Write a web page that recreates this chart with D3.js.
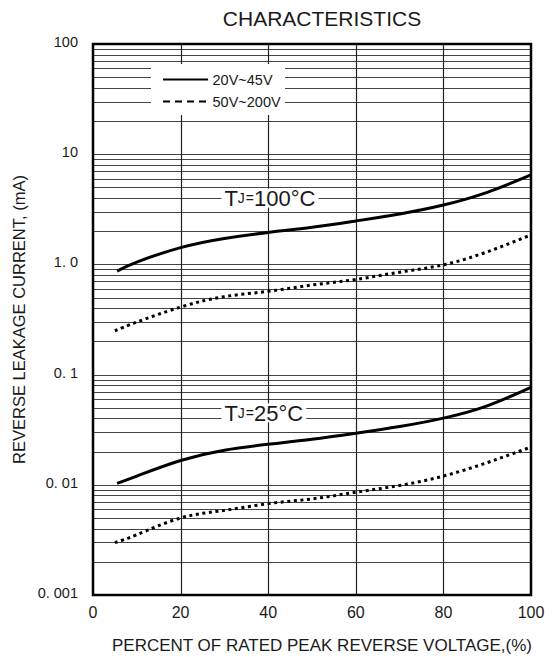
<!DOCTYPE html>
<html>
<head>
<meta charset="utf-8">
<script src="https://cdn.jsdelivr.net/npm/d3@7/dist/d3.min.js"></script>
<style>
  html, body { margin: 0; padding: 0; background: #fff; }
  svg { display: block; }
  text { font-family: "Liberation Sans", Arial, "DejaVu Sans", sans-serif; fill: #1a1a1a; }
</style>
</head>
<body>
<script>
// ---------- data ----------
const xTicks = [0, 20, 40, 60, 80, 100];
const xTickLabels = ["0", "20", "40", "60", "80", "100"];
const yTicks = [100, 10, 1, 0.1, 0.01, 0.001];
const yTickLabels = ["100", "10", "1. 0", "0. 1", "0. 01", "0. 001"];

const pctSolid  = [5.5, 10, 20, 30, 40, 50, 60, 70, 80, 90, 100];
const pctDotted = [5, 10, 20, 30, 40, 50, 60, 70, 80, 90, 100];

// TJ = 100°C
const lowV_100C  = [0.87, 1.05, 1.42, 1.72, 1.95, 2.17, 2.48, 2.87, 3.46, 4.51, 6.48];   // 20V~45V
const highV_100C = [0.25, 0.30, 0.41, 0.51, 0.57, 0.65, 0.73, 0.85, 0.99, 1.30, 1.85];   // 50V~200V
// TJ = 25°C
const lowV_25C   = [0.0103, 0.0120, 0.0166, 0.0206, 0.0233, 0.0259, 0.0294, 0.0338, 0.0403, 0.0521, 0.0767];
const highV_25C  = [0.00299, 0.00352, 0.0050, 0.00586, 0.00675, 0.00745, 0.00856, 0.00985, 0.0120, 0.0159, 0.0220];

const legendLabels = ["20V~45V", "50V~200V"];
const tempLabels = [
  { main: "T", sub: "J", eq: "=", rest: "100°C", x: 30, y: 4 },
  { main: "T", sub: "J", eq: "=", rest: "25°C",  x: 30, y: 0.045 }
];

const title = "CHARACTERISTICS";
const xTitle = "PERCENT OF RATED PEAK REVERSE VOLTAGE,(%)";
const yTitle = "REVERSE LEAKAGE CURRENT, (mA)";

// ---------- layout ----------
const W = 557, H = 657;
const svg = d3.select("body").append("svg").attr("width", W).attr("height", H);
svg.append("rect").attr("width", W).attr("height", H).attr("fill", "#fff");

const x = d3.scaleLinear().domain([0, 100]).range([93, 531]);
const y = d3.scaleLog().domain([0.001, 100]).range([595, 44]);

// grid: horizontal minor lines
const hLines = [];
[0.001, 0.01, 0.1, 1, 10].forEach(d => { for (let k = 1; k <= 9; k++) hLines.push(d * k); });
hLines.push(100);
const g = svg.append("g");
g.selectAll("line.h").data(hLines.filter(v => v > 0.001 && v < 100)).join("line")
  .attr("class", "h")
  .attr("x1", x(0)).attr("x2", x(100))
  .attr("y1", d => Math.round(y(d)) + 0.5).attr("y2", d => Math.round(y(d)) + 0.5)
  .attr("stroke", "#444").attr("stroke-width", 1);
g.selectAll("line.v").data(xTicks.filter(v => v > 0 && v < 100)).join("line")
  .attr("class", "v")
  .attr("y1", y(100)).attr("y2", y(0.001))
  .attr("x1", d => Math.round(x(d)) + 0.5).attr("x2", d => Math.round(x(d)) + 0.5)
  .attr("stroke", "#222").attr("stroke-width", 1.2);

// legend box (white, covers grid)
const lg = svg.append("g");
const lgX = x(0) + 58, lgY = y(100) + 20;
lg.append("rect").attr("x", lgX).attr("y", lgY).attr("width", 134).attr("height", 51).attr("fill", "#fff");

// curves
const line = d3.line().x(d => x(d[0])).y(d => y(d[1])).curve(d3.curveNatural);
const series = [
  { pct: pctSolid,  vals: lowV_100C,  dash: null },
  { pct: pctDotted, vals: highV_100C, dash: "3,3.6" },
  { pct: pctSolid,  vals: lowV_25C,   dash: null },
  { pct: pctDotted, vals: highV_25C,  dash: "3,3.6" }
];

// temperature labels with white boxes
tempLabels.forEach(t => {
  const tg = svg.append("g");
  const txt = tg.append("text")
    .attr("x", x(t.x)).attr("y", y(t.y))
    .attr("dominant-baseline", "central")
    .attr("font-size", 22);
  txt.append("tspan").text(t.main);
  txt.append("tspan").attr("font-size", 14).text(t.sub);
  txt.append("tspan").attr("font-size", 14).attr("dx", 1).text(t.eq);
  txt.append("tspan").text(t.rest);
  const bb = txt.node().getBBox();
  const cy = y(t.y);
  tg.insert("rect", "text")
    .attr("x", bb.x - 3).attr("y", cy - 9.5).attr("width", bb.width + 6).attr("height", 19)
    .attr("fill", "#fff");
});

series.forEach(s => {
  svg.append("path")
    .datum(s.pct.map((p, i) => [p, s.vals[i]]))
    .attr("d", line)
    .attr("fill", "none")
    .attr("stroke", "#000")
    .attr("stroke-width", 3)
    .attr("stroke-dasharray", s.dash)
    .attr("stroke-linecap", "butt");
});

// legend content
legendLabels.forEach((lab, i) => {
  const ly = lgY + 15.5 + i * 22;
  lg.append("line").attr("x1", lgX + 12).attr("x2", lgX + 57).attr("y1", ly).attr("y2", ly)
    .attr("stroke", "#000").attr("stroke-width", 2)
    .attr("stroke-dasharray", i === 0 ? null : "7,5");
  lg.append("text").attr("x", lgX + 61.5).attr("y", ly).attr("dominant-baseline", "central")
    .attr("font-size", 14.5).text(lab);
});

// frame
svg.append("rect")
  .attr("x", x(0)).attr("y", y(100))
  .attr("width", x(100) - x(0)).attr("height", y(0.001) - y(100))
  .attr("fill", "none").attr("stroke", "#000").attr("stroke-width", 2.5);

// tick labels
svg.selectAll("text.xt").data(xTicks).join("text")
  .attr("class", "xt")
  .attr("x", d => x(d)).attr("y", y(0.001) + 17)
  .attr("text-anchor", "middle").attr("dominant-baseline", "central")
  .attr("font-size", 16)
  .text((d, i) => xTickLabels[i]);
svg.selectAll("text.yt").data(yTicks).join("text")
  .attr("class", "yt")
  .attr("x", x(0) - 15).attr("y", d => y(d) - 2)
  .attr("text-anchor", "end").attr("dominant-baseline", "central")
  .attr("font-size", 14.5)
  .text((d, i) => yTickLabels[i]);

// titles
svg.append("text").attr("x", 322).attr("y", 26).attr("text-anchor", "middle")
  .attr("font-size", 21).text(title);
svg.append("text").attr("x", 322).attr("y", 651).attr("text-anchor", "middle")
  .attr("font-size", 17).text(xTitle);
svg.append("text")
  .attr("transform", `translate(19,${(y(100) + y(0.001)) / 2}) rotate(-90)`)
  .attr("text-anchor", "middle").attr("dominant-baseline", "central")
  .attr("font-size", 16.5).text(yTitle);
</script>
</body>
</html>
